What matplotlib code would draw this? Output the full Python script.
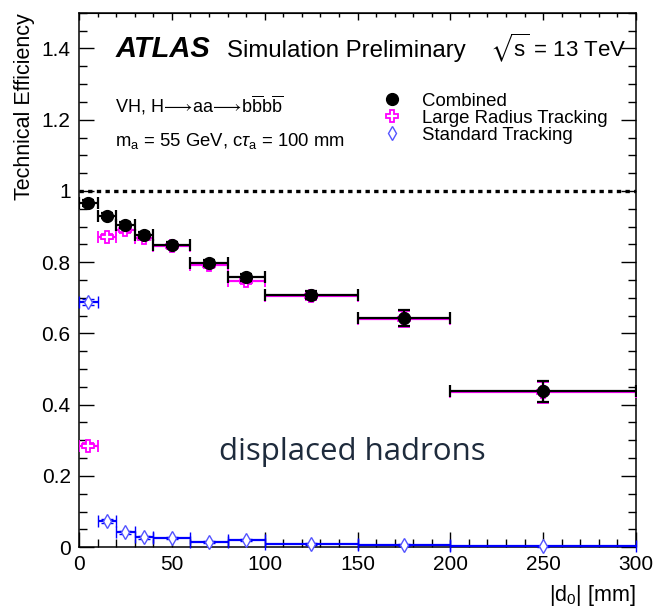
import numpy as np
import matplotlib
matplotlib.use('Agg')
import matplotlib.pyplot as plt
from matplotlib.lines import Line2D
from matplotlib.ticker import MultipleLocator, FuncFormatter

plt.rcParams['font.family'] = ['Liberation Sans', 'DejaVu Sans']
plt.rcParams['mathtext.fontset'] = 'custom'
plt.rcParams['mathtext.rm'] = 'Liberation Sans'
plt.rcParams['mathtext.it'] = 'Liberation Sans:italic'
plt.rcParams['mathtext.bf'] = 'Liberation Sans:bold'
plt.rcParams['mathtext.fallback'] = 'stixsans'

# |d0| bins [mm]
bin_lo = np.array([0, 10, 20, 30, 40, 60, 80, 100, 150, 200])
bin_hi = np.array([10, 20, 30, 40, 60, 80, 100, 150, 200, 300])

# efficiencies per bin
eff_combined = [0.966, 0.930, 0.905, 0.877, 0.849, 0.797, 0.757, 0.708, 0.643, 0.437]
err_combined = [0.008, 0.007, 0.008, 0.008, 0.007, 0.008, 0.010, 0.010, 0.022, 0.030]
eff_lrt = [0.285, 0.872, 0.890, 0.869, 0.845, 0.792, 0.748, 0.705, 0.640, 0.435]
err_lrt = [0.008, 0.008, 0.008, 0.008, 0.007, 0.008, 0.010, 0.010, 0.022, 0.030]
eff_std = [0.688, 0.073, 0.042, 0.028, 0.025, 0.014, 0.020, 0.008, 0.005, 0.002]
err_std = [0.008, 0.005, 0.004, 0.004, 0.003, 0.003, 0.004, 0.003, 0.003, 0.002]

centers = (bin_lo + bin_hi) / 2
xerr = (bin_hi - bin_lo) / 2

fig = plt.figure(figsize=(6.53, 6.12), dpi=100)
ax = fig.add_axes([0.121, 0.106, 0.853, 0.873])

ax.axhline(1.0, color='black', lw=2.4, linestyle=(0, (1.3, 1.3)), zorder=1)

common = dict(linestyle='none', elinewidth=1.6, capsize=4.5, capthick=1.6)
ax.errorbar(centers, eff_std, xerr=xerr, yerr=err_std, fmt='d', color='#0000ff',
            ecolor='#0000ff', mfc='white', mec='#5555ff', ms=7.5, mew=1.0,
            zorder=3, clip_on=False, **common)
ax.errorbar(centers, eff_lrt, xerr=xerr, yerr=err_lrt, fmt='P', color='#ff00ff',
            ecolor='#ff00ff', mfc='white', mec='#ff00ff', ms=9, mew=1.3,
            zorder=4, **common)
ax.errorbar(centers, eff_combined, xerr=xerr, yerr=err_combined, fmt='o', color='black',
            ecolor='black', ms=8.5, zorder=5, **common)

ax.set_xlim(0, 300)
ax.set_ylim(0, 1.5)
ax.xaxis.set_major_locator(MultipleLocator(50))
ax.xaxis.set_minor_locator(MultipleLocator(10))
ax.yaxis.set_major_locator(MultipleLocator(0.2))
ax.yaxis.set_minor_locator(MultipleLocator(0.05))
ax.yaxis.set_major_formatter(FuncFormatter(lambda v, p: '%g' % round(v, 2)))

ax.tick_params(which='both', direction='in', labelsize=15, right=True, top=False,
               width=1.0, pad=6)
ax.tick_params(which='major', length=11)
ax.tick_params(which='minor', length=6)

top = ax.secondary_xaxis('top')
top.xaxis.set_major_locator(MultipleLocator(50))
top.xaxis.set_minor_locator(MultipleLocator(10))
top.tick_params(which='both', direction='in', labeltop=False, width=1.0)
top.tick_params(which='major', length=5)
top.tick_params(which='minor', length=3)

for sp in ax.spines.values():
    sp.set_linewidth(1.1)

ax.set_ylabel('Technical Efficiency', fontsize=15.5, loc='top', labelpad=5)
ax.set_xlabel(r'|d$_{0}$| [mm]', fontsize=15.5, loc='right', labelpad=6)

ax.text(0.065, 0.918, 'ATLAS', transform=ax.transAxes, fontsize=21,
        fontweight='bold', fontstyle='italic')
ax.text(0.266, 0.918, 'Simulation Preliminary', transform=ax.transAxes, fontsize=17.3)
ax.text(0.738, 0.918, r'$\sqrt{\mathrm{s}}$ = 13 TeV', transform=ax.transAxes, fontsize=16)

ax.text(0.065, 0.813,
        r'VH, H$\!\longrightarrow\!$aa$\!\longrightarrow\!$b$\overline{\mathrm{b}}$b$\overline{\mathrm{b}}$',
        transform=ax.transAxes, fontsize=13)
ax.text(0.065, 0.751, r'm$_{\mathrm{a}}$ = 55 GeV, c$\tau_{\mathrm{a}}$ = 100 mm',
        transform=ax.transAxes, fontsize=13.3)

handles = [
    Line2D([], [], marker='o', color='black', ls='none', ms=8.5),
    Line2D([], [], marker='P', color='#ff00ff', mfc='white', mec='#ff00ff',
           ls='none', ms=9, mew=1.3),
    Line2D([], [], marker='d', color='#5555ff', mfc='white', mec='#5555ff',
           ls='none', ms=7.5, mew=1.0),
]
ax.legend(handles, ['Combined', 'Large Radius Tracking', 'Standard Tracking'],
          loc='upper left', bbox_to_anchor=(0.525, 0.868), frameon=False,
          fontsize=13.4, labelspacing=0.0, handletextpad=1.0, handlelength=1.2,
          borderpad=0)

ax.text(0.49, 0.178, 'displaced hadrons', transform=ax.transAxes, fontsize=22.5,
        color='#1e2b3c', ha='center', va='center', family=['Open Sans', 'DejaVu Sans'])

fig.savefig('out.png', dpi=100)
